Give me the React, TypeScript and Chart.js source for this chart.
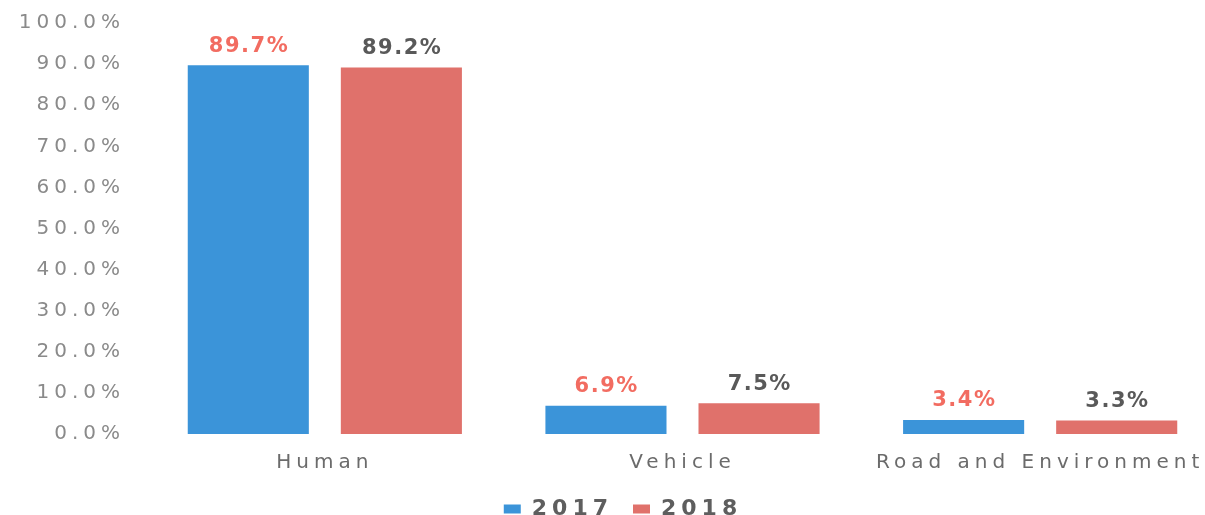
import React, { useEffect, useRef } from 'react';
import { Chart, registerables } from 'chart.js';

Chart.register(...registerables);

const categories = ['Human', 'Vehicle', 'Road and Environment'];
const seriesNames = ['2017', '2018'];
const values2017 = [89.7, 6.9, 3.4];
const values2018 = [89.2, 7.5, 3.3];
const yMin = 0;
const yMax = 100;
const yStep = 10;

const barColors = ['#3b94d9', '#e0716b'];
const valueLabelColors = ['#f26c61', '#595959'];
const FONT = '"DejaVu Sans", Verdana, sans-serif';
const SPACING = '5px';

const spacingPlugin = {
  id: 'letterSpacing',
  beforeUpdate(chart: any) { chart.ctx.letterSpacing = SPACING; },
  beforeLayout(chart: any) { chart.ctx.letterSpacing = SPACING; },
  resize(chart: any) { chart.ctx.letterSpacing = SPACING; },
  beforeDraw(chart: any) { chart.ctx.letterSpacing = SPACING; },
};

const valueLabelPlugin = {
  id: 'valueLabels',
  afterDatasetsDraw(chart: any) {
    const ctx = chart.ctx;
    ctx.save();
    ctx.letterSpacing = '1.5px';
    ctx.font = `bold 21px ${FONT}`;
    ctx.textAlign = 'center';
    ctx.textBaseline = 'middle';
    chart.data.datasets.forEach((ds: any, i: number) => {
      const meta = chart.getDatasetMeta(i);
      meta.data.forEach((bar: any, j: number) => {
        ctx.fillStyle = valueLabelColors[i];
        ctx.fillText(Number(ds.data[j]).toFixed(1) + '%', bar.x + 0.75, bar.y - 19);
      });
    });
    ctx.restore();
  },
};

export default function App() {
  const ref = useRef<HTMLCanvasElement | null>(null);

  useEffect(() => {
    if (!ref.current) return;
    const chart = new Chart(ref.current, {
      type: 'bar',
      data: {
        labels: categories,
        datasets: [
          {
            label: seriesNames[0],
            data: values2017,
            backgroundColor: barColors[0],
            borderWidth: 0,
            categoryPercentage: 0.856,
            barPercentage: 0.791,
          },
          {
            label: seriesNames[1],
            data: values2018,
            backgroundColor: barColors[1],
            borderWidth: 0,
            categoryPercentage: 0.856,
            barPercentage: 0.791,
          },
        ],
      },
      options: {
        animation: false,
        responsive: true,
        maintainAspectRatio: false,
        events: [],
        layout: { padding: { left: 0, top: 23, right: 0, bottom: 0 } },
        font: { family: FONT },
        scales: {
          x: {
            grid: { display: false, drawTicks: false },
            border: { display: false },
            ticks: {
              padding: 17,
              color: '#6b6b6b',
              font: { family: FONT, size: 20 },
              maxRotation: 0,
              autoSkip: false,
            },
            afterFit(scale: any) { scale.height = 44; },
          },
          y: {
            position: 'left',
            min: yMin,
            max: yMax,
            grid: { display: false, drawTicks: false },
            border: { display: false },
            ticks: {
              stepSize: yStep,
              padding: 21,
              color: '#8a8a8a',
              font: { family: FONT, size: 20 },
              callback: (v: any) => Number(v).toFixed(1) + '%',
            },
            afterFit(scale: any) {
              scale.width = 146;
              scale.paddingTop = 10;
              scale.paddingBottom = 10;
            },
          },
          yRight: {
            type: 'linear',
            axis: 'y',
            position: 'right',
            min: yMin,
            max: yMax,
            grid: { display: false, drawTicks: false },
            border: { display: false },
            ticks: { display: false },
            afterFit(scale: any) {
              scale.width = 27;
              scale.paddingTop = 0;
              scale.paddingBottom = 0;
            },
          },
        },
        plugins: {
          legend: {
            position: 'bottom',
            labels: {
              boxWidth: 17,
              boxHeight: 9,
              padding: 20,
              color: '#5e5e5e',
              font: { family: FONT, size: 22, weight: 'bold' },
            },
          },
          tooltip: { enabled: false },
          title: { display: false },
        },
      },
      plugins: [spacingPlugin, valueLabelPlugin],
    } as any);
    return () => chart.destroy();
  }, []);

  return (
    <div style={{ position: 'fixed', left: 0, top: 0, width: 1205, height: 515, overflow: 'hidden', background: '#ffffff' }}>
      <div style={{ position: 'relative', width: 1246, height: 530 }}>
        <canvas ref={ref} />
      </div>
    </div>
  );
}
